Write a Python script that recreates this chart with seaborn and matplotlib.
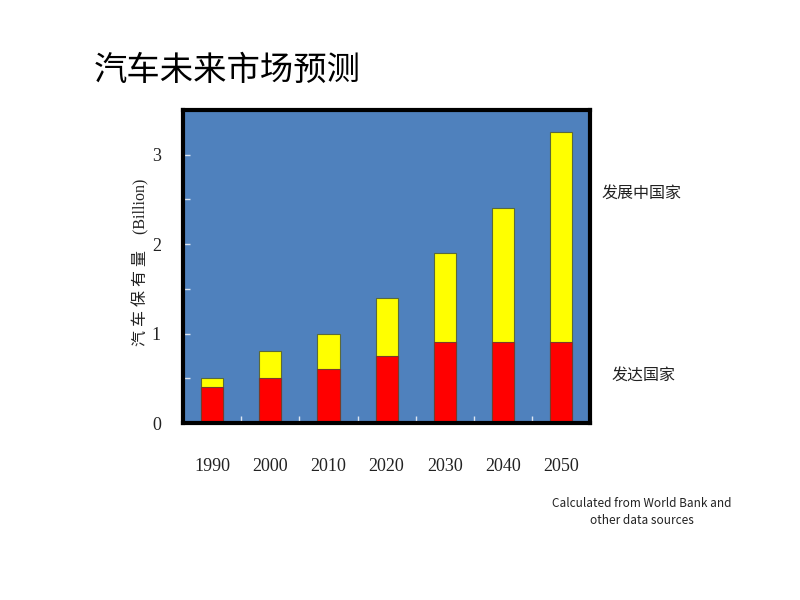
import matplotlib
matplotlib.use("Agg")
import matplotlib.pyplot as plt
import seaborn as sns
import pandas as pd
from matplotlib.ticker import MultipleLocator

years = ["1990", "2000", "2010", "2020", "2030", "2040", "2050"]
developed = [0.4, 0.5, 0.6, 0.75, 0.9, 0.9, 0.9]
total = [0.5, 0.8, 1.0, 1.4, 1.9, 2.4, 3.25]
y_ticks = [0, 1, 2, 3]

sns.set_theme(style="white")
plt.rcParams['font.family'] = ['Noto Sans CJK SC', 'DejaVu Sans']

df = pd.DataFrame({"year": years, "developed": developed, "total": total})

fig = plt.figure(figsize=(8, 6), dpi=100)
ax = fig.add_axes([0.229, 0.295, 0.5085, 0.522])
ax.set_facecolor("#4F81BD")

sns.barplot(data=df, x="year", y="total", order=years, color="#FFFF00",
            width=0.38, edgecolor="#5a6a3a", linewidth=0.8, saturation=1, ax=ax)
sns.barplot(data=df, x="year", y="developed", order=years, color="#FF0000",
            width=0.38, edgecolor="#7a3a2a", linewidth=0.8, saturation=1, ax=ax)

ax.set_xlim(-0.5, 6.5)
ax.set_ylim(0, 3.5)
ax.set_yticks(y_ticks)
ax.yaxis.set_minor_locator(MultipleLocator(0.5))
ax.set_xticks(range(len(years)))
ax.set_xticklabels(years)
ax.set_xticks([i + 0.5 for i in range(6)], minor=True)

serif = ['Liberation Serif', 'DejaVu Serif']
for lab in ax.get_xticklabels():
    lab.set_fontfamily(serif)
    lab.set_fontsize(13)
for lab in ax.get_yticklabels():
    lab.set_fontfamily(serif)
    lab.set_fontsize(13)

ax.tick_params(axis="x", which="major", length=0, pad=25, colors="#222222")
ax.tick_params(axis="x", which="minor", direction="in", length=5, width=1, color="#dce6f2", bottom=True)
ax.tick_params(axis="y", which="major", direction="in", length=5, width=1, color="#dce6f2",
               pad=16, labelcolor="#222222", left=True)
ax.tick_params(axis="y", which="minor", direction="in", length=5, width=1, color="#dce6f2", left=True)

for s in ax.spines.values():
    s.set_visible(True)
    s.set_color("black")
    s.set_linewidth(3)

ax.set_xlabel("")
ax.set_ylabel("")
fig.text(0.176, 0.563, "汽 车 保 有 量    (Billion)", rotation=90, ha="center", va="center",
         fontsize=11.5, color="#222222", family=['Liberation Serif', 'Noto Sans CJK SC'])

fig.text(0.117, 0.882, "汽车未来市场预测", fontsize=24, ha="left", va="center", color="black")

fig.text(0.752, 0.678, "发展中国家", fontsize=11.5, ha="left", va="center", color="#222222")
fig.text(0.765, 0.373, "发达国家", fontsize=11.5, ha="left", va="center", color="#222222")

fig.text(0.802, 0.146, "Calculated from World Bank and\nother data sources", fontsize=8.5,
         ha="center", va="center", color="#222222", linespacing=1.4,
         family=['Noto Sans CJK JP', 'DejaVu Sans'])

fig.savefig("out.png", dpi=100, facecolor="white")
